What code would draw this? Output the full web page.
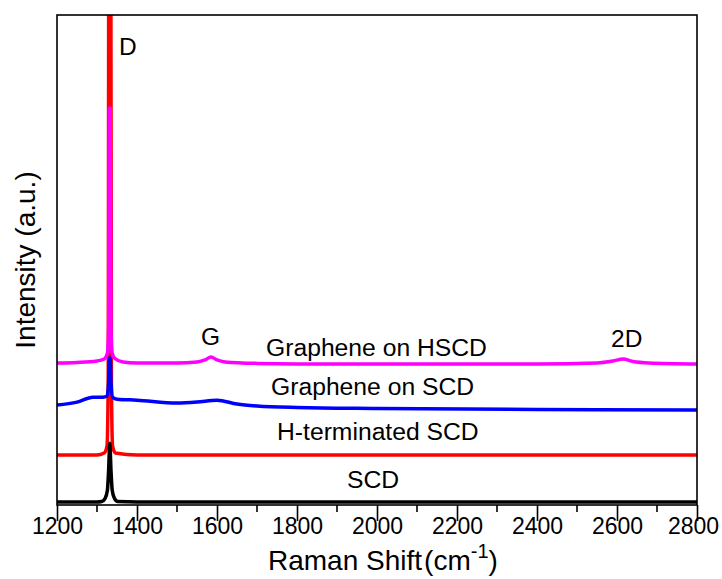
<!DOCTYPE html>
<html>
<head>
<meta charset="utf-8">
<script src="https://cdn.jsdelivr.net/npm/d3@7"></script>
<style>
  body { margin: 0; background: #fff; }
  svg { font-family: Arial, "Liberation Sans", sans-serif; }
</style>
</head>
<body>
<div id="svg-container"></div>
<script>
// DATA (intensity in arbitrary units, offset traces)
const majorTicks = [1200, 1400, 1600, 1800, 2000, 2200, 2400, 2600, 2800]
const minorTicks = [1300, 1500, 1700, 1900, 2100, 2300, 2500, 2700]

const shiftHSCD = [1200, 1250, 1300, 1318, 1326, 1329, 1331, 1333, 1335, 1338, 1346, 1365, 1400, 1500, 1550, 1570, 1585, 1600, 1620, 1700, 1800, 2000, 2200, 2400, 2550, 2590, 2615, 2640, 2680, 2800]
const valHSCD = [29.0, 29.1, 29.4, 29.8, 31.0, 36, 81.0, 81.0, 36, 31.0, 29.8, 29.2, 29.0, 29.0, 29.2, 29.6, 30.2, 29.6, 29.2, 28.9, 28.8, 28.8, 28.8, 28.8, 29.0, 29.4, 29.8, 29.3, 29.0, 28.8]

const shiftSCDg = [1200, 1250, 1290, 1315, 1325, 1329, 1331, 1333, 1335, 1339, 1350, 1400, 1500, 1550, 1600, 1650, 1700, 1800, 2000, 2400, 2800]
const valSCDg = [20.4, 21.0, 22.0, 22.0, 22.2, 25, 30.0, 30.0, 25, 22.0, 21.6, 21.4, 20.8, 21.0, 21.4, 20.6, 20.2, 19.9, 19.7, 19.5, 19.4]

const shiftHterm = [1200, 1300, 1318, 1325, 1328, 1330, 1334, 1336, 1339, 1346, 1400, 1800, 2400, 2800]
const valHterm = [10.2, 10.2, 10.6, 12.0, 25, 150, 150, 25, 12.0, 10.6, 10.2, 10.2, 10.2, 10.2]

const shiftSCD = [1200, 1300, 1312, 1320, 1326, 1329, 1332, 1335, 1338, 1344, 1352, 1400, 1800, 2400, 2800]
const valSCD = [0.6, 0.6, 0.7, 1.3, 3.0, 7.0, 12.6, 7.0, 3.0, 1.3, 0.7, 0.6, 0.6, 0.6, 0.6]

const seriesNames = ["H-terminated SCD", "Graphene on SCD", "Graphene on HSCD", "SCD"]
const seriesColors = ["#ff0000", "#0000ff", "#ff00ff", "#000000"]
const seriesShift = [shiftHterm, shiftSCDg, shiftHSCD, shiftSCD]
const seriesVal = [valHterm, valSCDg, valHSCD, valSCD]

const width = 722
const height = 579
const margins = { left: 57, right: 25, top: 15, bottom: 74 }

const svg = d3
  .select("#svg-container")
  .append("svg")
  .attr("width", width)
  .attr("height", height)

const xScale = d3
  .scaleLinear()
  .domain([1200, 2800])
  .range([margins.left, width - margins.right])
const yScale = d3
  .scaleLinear()
  .domain([0, 100])
  .range([height - margins.bottom, margins.top])

// CLIP PATH
svg
  .append("clipPath")
  .attr("id", "clip")
  .append("rect")
  .attr("x", margins.left)
  .attr("y", margins.top)
  .attr("width", width - margins.left - margins.right)
  .attr("height", height - margins.top - margins.bottom)

const lineGenerator = d3
  .line()
  .curve(d3.curveMonotoneX)
  .x((d) => xScale(d[0]))
  .y((d) => yScale(d[1]))

const traces = seriesNames.map((name, i) => ({
  name: name,
  color: seriesColors[i],
  points: seriesShift[i].map((s, j) => [s, seriesVal[i][j]]),
}))

svg
  .selectAll(".trace")
  .data(traces)
  .join("path")
  .attr("class", "trace")
  .attr("d", (d) => lineGenerator(d.points))
  .attr("fill", "none")
  .attr("stroke", (d) => d.color)
  .attr("stroke-width", 3.5)
  .attr("stroke-linejoin", "round")
  .attr("clip-path", "url(#clip)")

// FRAME
svg
  .append("rect")
  .attr("x", margins.left)
  .attr("y", margins.top)
  .attr("width", width - margins.left - margins.right)
  .attr("height", height - margins.top - margins.bottom)
  .attr("fill", "none")
  .attr("stroke", "#000")
  .attr("stroke-width", 1.6)

// AXIS
const xAxisGenerator = d3
  .axisBottom(xScale)
  .tickValues(majorTicks)
  .tickFormat(d3.format("d"))
  .tickSizeInner(16)
  .tickSizeOuter(0)
  .tickPadding(-3)

const xAxis = svg
  .append("g")
  .attr("transform", `translate(0, ${height - margins.bottom})`)
  .call(xAxisGenerator)
xAxis.select(".domain").remove()
xAxis.selectAll("line").attr("stroke-width", 1.6)
xAxis
  .selectAll("text")
  .style("font-size", "23px")
  .style("font-family", "Arial, 'Liberation Sans', sans-serif")
  .attr("fill", "#000")
  .attr("dx", (d) => (d === 2800 ? -4 : 0))

svg
  .append("g")
  .selectAll("line")
  .data(minorTicks)
  .join("line")
  .attr("x1", (d) => xScale(d))
  .attr("x2", (d) => xScale(d))
  .attr("y1", height - margins.bottom)
  .attr("y2", height - margins.bottom + 7)
  .attr("stroke", "#000")
  .attr("stroke-width", 1.6)

// AXIS TITLES
const xTitle = svg
  .append("text")
  .attr("x", 268)
  .attr("y", 570)
  .style("font-size", "28px")
xTitle.append("tspan").text("Raman Shift")
xTitle.append("tspan").attr("dx", 2).text("(cm")
xTitle.append("tspan").attr("dy", -12).style("font-size", "20px").text("-1")
xTitle.append("tspan").attr("dy", 12).text(")")

svg
  .append("text")
  .attr("transform", "translate(35, 260) rotate(-90)")
  .attr("text-anchor", "middle")
  .style("font-size", "28px")
  .text("Intensity (a.u.)")

// PEAK LABELS
const peakLabels = ["D", "G", "2D"]
const peakLabelPos = [[119, 55], [201, 345], [611, 347]]
svg
  .selectAll(".peak")
  .data(peakLabels)
  .join("text")
  .attr("class", "peak")
  .attr("x", (d, i) => peakLabelPos[i][0])
  .attr("y", (d, i) => peakLabelPos[i][1])
  .style("font-size", "24.5px")
  .text((d) => d)

// SERIES LABELS
const seriesLabelPos = [[277, 440], [271, 395], [266, 356], [347, 488]]
svg
  .selectAll(".series-label")
  .data(seriesNames)
  .join("text")
  .attr("class", "series-label")
  .attr("x", (d, i) => seriesLabelPos[i][0])
  .attr("y", (d, i) => seriesLabelPos[i][1])
  .style("font-size", "24.7px")
  .text((d) => d)
</script>
</body>
</html>
